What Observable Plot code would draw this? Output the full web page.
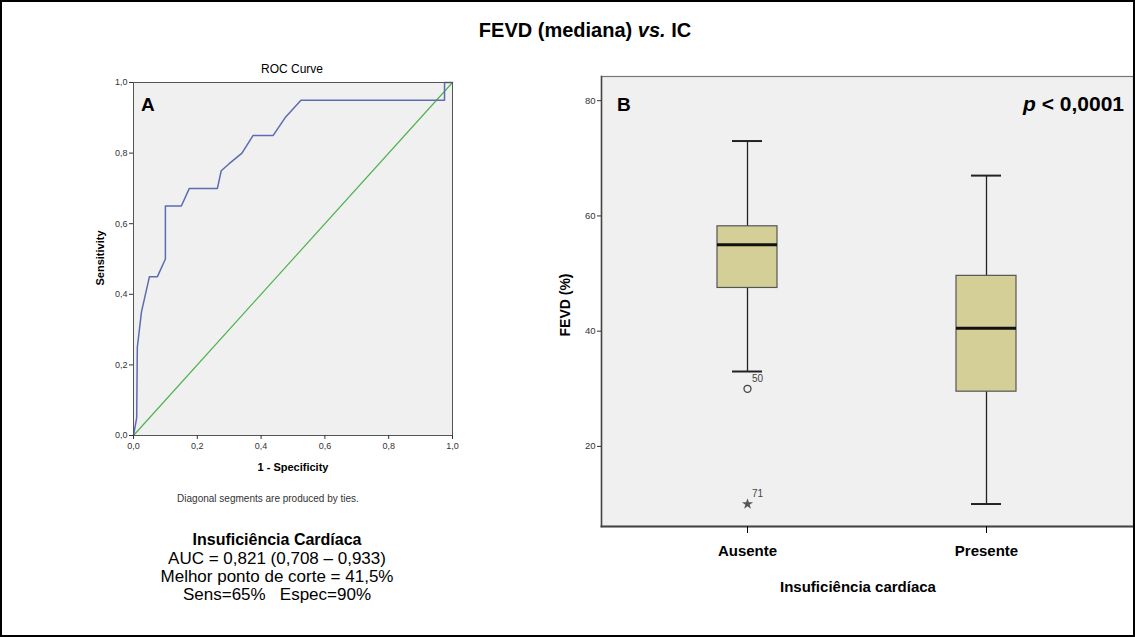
<!DOCTYPE html>
<html><head><meta charset="utf-8">
<script src="https://cdn.jsdelivr.net/npm/d3@7"></script>
<script src="https://cdn.jsdelivr.net/npm/@observablehq/plot@0.6"></script>
<style>
body{margin:0;background:#fff;font-family:Arial,"Liberation Sans",sans-serif;}
#frame{position:relative;width:1135px;height:637px;overflow:hidden;background:#fff;}
#border{position:absolute;left:0;top:0;width:1135px;height:637px;box-sizing:border-box;border:2px solid #000;pointer-events:none;z-index:10;}
.t{position:absolute;white-space:nowrap;color:#000;line-height:1;transform:translate(-50%,-50%);z-index:5;}
.l{transform:translate(0,-50%);}
.r{transform:translate(-100%,-50%);}
.rot{transform:translate(-50%,-50%) rotate(-90deg);}
.svgA,.svgB{position:absolute;z-index:1;}
</style></head><body>
<div id="frame">
  <div id="border"></div>
  <div id="A" class="svgA" style="left:80px;top:55px;"></div>
  <div id="B" class="svgB" style="left:545px;top:60px;"></div>
  <div class="t" style="left:585px;top:30px;font-size:20px;font-weight:bold;">FEVD (mediana) <i>vs.</i> IC</div>
  <div class="t" style="left:292px;top:69px;font-size:12px;">ROC Curve</div>
  <div class="t l" style="left:141px;top:104px;font-size:19px;font-weight:bold;">A</div>
  <div class="t rot" style="left:100px;top:258px;font-size:11px;font-weight:bold;">Sensitivity</div>
  <div class="t" style="left:293px;top:467px;font-size:11px;font-weight:bold;">1 - Specificity</div>
  <div class="t" style="left:268px;top:499px;font-size:10px;color:#333;">Diagonal segments are produced by ties.</div>
  <div class="t" style="left:277px;top:540px;font-size:16px;font-weight:bold;">Insuficiência Cardíaca</div>
  <div class="t" style="left:277px;top:558px;font-size:17px;">AUC = 0,821 (0,708 – 0,933)</div>
  <div class="t" style="left:277px;top:576px;font-size:17px;">Melhor ponto de corte = 41,5%</div>
  <div class="t" style="left:277px;top:594px;font-size:17px;">Sens=65%&nbsp;&nbsp; Espec=90%</div>
  <div class="t l" style="left:617px;top:104px;font-size:19px;font-weight:bold;">B</div>
  <div class="t r" style="left:1124px;top:103px;font-size:21px;font-weight:bold;"><i>p</i> &lt; 0,0001</div>
  <div class="t rot" style="left:565px;top:305px;font-size:14px;font-weight:bold;">FEVD (%)</div>
  <div class="t" style="left:858px;top:586px;font-size:15px;font-weight:bold;">Insuficiência cardíaca</div>
</div>
<script>
// ROC curve data (1 - specificity, sensitivity)
const rocFpr = [0, 0.01, 0.012, 0.025, 0.05, 0.075, 0.1, 0.1, 0.15, 0.175, 0.263, 0.275, 0.3, 0.34, 0.375, 0.438, 0.475, 0.525, 0.975, 0.975, 1];
const rocTpr = [0, 0.05, 0.25, 0.35, 0.45, 0.45, 0.5, 0.65, 0.65, 0.7, 0.7, 0.75, 0.77, 0.8, 0.85, 0.85, 0.9, 0.95, 0.95, 1, 1];
const refLine = [0, 1];
const rocTicks = [0, 0.2, 0.4, 0.6, 0.8, 1];

// Box plot data: FEVD (%) by heart failure
const groups = ["Ausente", "Presente"];
const whiskerLow = [33, 10];
const q1 = [47.5, 29.5];
const median = [55, 40.5];
const q3 = [58.2, 49.6];
const whiskerHigh = [73, 67];
const outlierGroup = ["Ausente", "Ausente"];
const outlierValue = [30, 10];
const outlierId = ["50", "71"];
const outlierKind = ["circle", "star"];
const fevdTicks = [20, 40, 60, 80];

const font = "Arial, 'Liberation Sans', sans-serif";
const fmt = d => d.toFixed(1).replace(".", ",");

const roc = rocFpr.map((x, i) => ({x, y: rocTpr[i]}));
const diag = refLine.map(v => ({x: v, y: v}));

const chartA = Plot.plot({
  width: 400, height: 430,
  marginLeft: 53, marginRight: 28, marginTop: 27, marginBottom: 50,
  x: {domain: [0, 1]}, y: {domain: [0, 1]},
  style: {fontFamily: font, background: "transparent", color: "#333"},
  marks: [
    Plot.frame({fill: "#f0f0f0", stroke: null}),
    Plot.line(diag, {x: "x", y: "y", stroke: "#4db34f", strokeWidth: 1.2}),
    Plot.line(roc, {x: "x", y: "y", stroke: "#5b6cb0", strokeWidth: 1.5}),
    Plot.frame({stroke: "#555", strokeWidth: 1}),
    Plot.axisX({ticks: rocTicks, tickFormat: fmt, tickSize: 4, tickPadding: 3, fontSize: 9, label: null}),
    Plot.axisY({ticks: rocTicks, tickFormat: fmt, tickSize: 4, tickPadding: 2, fontSize: 9, label: null})
  ]
});
document.getElementById("A").appendChild(chartA);

const boxes = groups.map((g, i) => ({g, lo: whiskerLow[i], q1: q1[i], med: median[i], q3: q3[i], hi: whiskerHigh[i]}));
const outliers = outlierGroup.map((g, i) => ({g, v: outlierValue[i], id: outlierId[i], kind: outlierKind[i]}));

const chartB = Plot.plot({
  width: 590, height: 506,
  marginLeft: 56, marginRight: 2, marginTop: 16, marginBottom: 40,
  x: {domain: groups, paddingInner: 0.747, paddingOuter: 0.483, align: 0.5},
  y: {domain: [6.1, 84.2]},
  style: {fontFamily: font, background: "transparent", color: "#000"},
  marks: [
    Plot.frame({fill: "#f0f0f0", stroke: null}),
    Plot.ruleX(boxes, {x: "g", y1: "lo", y2: "hi", stroke: "#222", strokeWidth: 1.3}),
    Plot.tickY(boxes, {x: "g", y: "hi", stroke: "#222", strokeWidth: 2, insetLeft: 15, insetRight: 15}),
    Plot.tickY(boxes, {x: "g", y: "lo", stroke: "#222", strokeWidth: 2, insetLeft: 15, insetRight: 15}),
    Plot.barY(boxes, {x: "g", y1: "q1", y2: "q3", fill: "#d4cf97", stroke: "#555", strokeWidth: 1.2}),
    Plot.tickY(boxes, {x: "g", y: "med", stroke: "#111", strokeWidth: 3}),
    Plot.dot(outliers.filter(d => d.kind === "circle"), {x: "g", y: "v", r: 3.5, stroke: "#444", fill: "none", strokeWidth: 1.3}),
    Plot.dot(outliers.filter(d => d.kind === "star"), {x: "g", y: "v", r: 3.5, symbol: "star", fill: "#555", stroke: "none"}),
    Plot.text(outliers, {x: "g", y: "v", text: "id", dx: 10, dy: -10, fontSize: 10, fill: "#444"}),
    Plot.frame({stroke: "#777", strokeWidth: 1.2}),
    Plot.frame({anchor: "left", stroke: "#444", strokeWidth: 1.5}),
    Plot.frame({anchor: "bottom", stroke: "#444", strokeWidth: 2}),
    Plot.axisY({ticks: fevdTicks, tickSize: 4, tickPadding: 2, fontSize: 9.5, label: null, color: "#333"}),
    Plot.axisX({tickSize: 7, tickPadding: 12, fontSize: 15, fontWeight: "bold", label: null})
  ]
});
document.getElementById("B").appendChild(chartB);
</script>
</body></html>
